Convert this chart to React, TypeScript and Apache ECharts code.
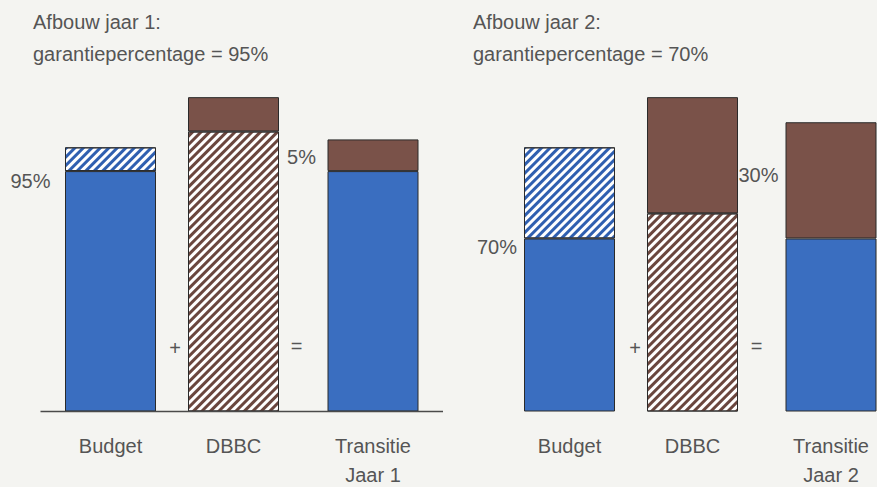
import { useEffect, useRef } from "react";
import * as echarts from "echarts";

// ---- data ----
const categories = ["Budget", "DBBC", "Transitie"];
const panelTitles = ["Afbouw jaar 1:", "Afbouw jaar 2:"];
const guaranteeLines = ["garantiepercentage = 95%", "garantiepercentage = 70%"];
const yearLabels = ["Jaar 1", "Jaar 2"];
const year1Bottom = [91, 106, 91];
const year1Top = [9, 13, 12];
const year2Bottom = [65.5, 75, 65.5];
const year2Top = [34.5, 44, 44];
const year1Shares = ["95%", "5%"];
const year2Shares = ["70%", "30%"];
const operators = ["+", "="];

// ---- layout / style ----
const FONT = "'Liberation Sans', Arial, Helvetica, sans-serif";
const FS = 20;
const TEXT = "#555555";
const BLUE = "#3a6ec0";
const BROWN = "#7a5249";
const EDGE = "#2a2a2a";
const centers = [
  [110.5, 233.5, 373],
  [569.5, 692.5, 831],
];
const titleLeft = [33, 473];
const shareOffsets = [
  [[-14.5, 10], [-11.5, 18]],
  [[-7, 9], [-7, 53]],
];
const operatorPos = [
  [[175, 347.5], [296.5, 346]],
  [[635, 347.5], [756.5, 346]],
];

const solid = (c: string) => ({ color: c, borderColor: EDGE, borderWidth: 1 });
const hatch = (c: string) => ({
  color: "#ffffff",
  borderColor: EDGE,
  borderWidth: 1,
  decal: {
    symbol: "rect",
    symbolSize: 1,
    color: c,
    backgroundColor: "#ffffff",
    dashArrayX: [1, 0],
    dashArrayY: [3, 3],
    rotation: -Math.PI / 4,
  },
});

const bottomStyles = [solid(BLUE), hatch("#6a463e"), solid(BLUE)];
const topStyles = [hatch("#2f5fb0"), solid(BROWN), solid(BROWN)];

export default function App() {
  const ref = useRef<HTMLDivElement>(null);
  useEffect(() => {
    if (!ref.current) return;
    const chart = echarts.init(ref.current, null, { renderer: "svg" });
    const bottoms = [year1Bottom, year2Bottom];
    const tops = [year1Top, year2Top];
    const shares = [year1Shares, year2Shares];

    const grid: any[] = [];
    const xAxis: any[] = [];
    const yAxis: any[] = [];
    const series: any[] = [];
    const graphic: any[] = [];
    const title: any[] = [];

    const labelStyle = {
      show: true,
      align: "right",
      verticalAlign: "middle",
      color: TEXT,
      fontFamily: FONT,
      fontSize: FS,
    };

    for (let p = 0; p < 2; p++) {
      title.push({
        text: panelTitles[p] + "\n" + guaranteeLines[p],
        left: titleLeft[p],
        top: 6,
        padding: 0,
        textStyle: {
          fontFamily: FONT,
          fontSize: FS,
          fontWeight: "normal",
          color: TEXT,
          lineHeight: 32,
        },
      });
      for (let c = 0; c < 3; c++) {
        const idx = p * 3 + c;
        grid.push({
          left: centers[p][c] - 50,
          width: 100,
          top: 94.5,
          bottom: 75.5,
          outerBoundsMode: "none",
          containLabel: false,
        });
        xAxis.push({
          gridIndex: idx,
          type: "category",
          data: [categories[c]],
          axisLine: { show: false },
          axisTick: { show: false },
          axisLabel: {
            color: TEXT,
            fontFamily: FONT,
            fontSize: FS,
            lineHeight: 29,
            margin: 20,
            formatter: (v: string) => (c === 2 ? v + "\n" + yearLabels[p] : v),
          },
        });
        yAxis.push({ gridIndex: idx, type: "value", min: 0, max: 120, show: false });

        const bottomLabel =
          c === 0
            ? { ...labelStyle, formatter: shares[p][0], position: shareOffsets[p][0] }
            : { show: false };
        const topLabel =
          c === 2
            ? { ...labelStyle, formatter: shares[p][1], position: shareOffsets[p][1] }
            : { show: false };

        series.push({
          type: "bar",
          xAxisIndex: idx,
          yAxisIndex: idx,
          stack: "s" + idx,
          barWidth: 91,
          data: [bottoms[p][c]],
          itemStyle: bottomStyles[c],
          label: bottomLabel,
          silent: true,
        });
        series.push({
          type: "bar",
          xAxisIndex: idx,
          yAxisIndex: idx,
          stack: "s" + idx,
          barWidth: 91,
          data: [tops[p][c]],
          itemStyle: topStyles[c],
          label: topLabel,
          silent: true,
          z: 3,
        });
      }
      for (let o = 0; o < 2; o++) {
        graphic.push({
          type: "text",
          x: operatorPos[p][o][0],
          y: operatorPos[p][o][1],
          style: {
            text: operators[o],
            fill: TEXT,
            font: `${FS}px ${FONT}`,
            textAlign: "center",
            textVerticalAlign: "middle",
          },
        });
      }
    }
    graphic.push({
      type: "line",
      shape: { x1: 40.5, y1: 411.5, x2: 443, y2: 411.5 },
      style: { stroke: "#4a4a4a", lineWidth: 1.5 },
      z: 10,
    });

    chart.setOption({
      animation: false,
      backgroundColor: "#f4f4f1",
      title,
      grid,
      xAxis,
      yAxis,
      series,
      graphic,
    });
    return () => chart.dispose();
  }, []);
  return (
    <div
      ref={ref}
      style={{ position: "absolute", left: 0, top: 0, width: 877, height: 487 }}
    />
  );
}
